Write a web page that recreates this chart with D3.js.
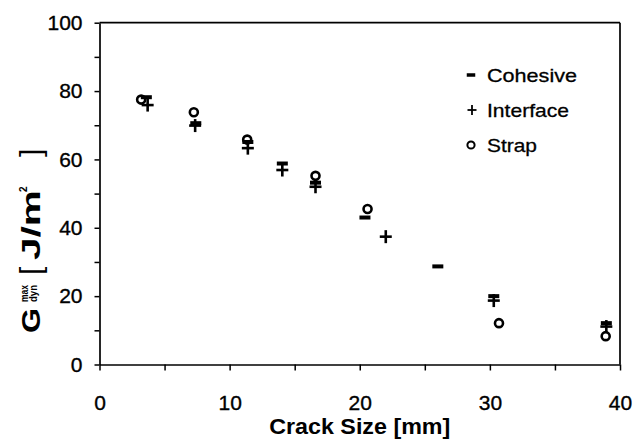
<!DOCTYPE html>
<html>
<head>
<meta charset="utf-8">
<script src="https://cdn.jsdelivr.net/npm/d3@7"></script>
<style>
  html, body { margin: 0; padding: 0; background: #fff; }
  svg { display: block; font-family: "Liberation Sans", Arial, sans-serif; }
</style>
</head>
<body>
<svg id="chart" width="633" height="442"></svg>
<script>
// Peak dynamic energy release rate against crack size, per failure mode
const cohesiveX  = [3.6, 7.4, 11.4, 14.05, 16.6, 20.4, 26.0, 30.3, 38.95];
const cohesiveY  = [78.2, 70.6, 65.1, 58.8, 53.2, 43.0, 28.7, 20.0, 12.1];
const interfaceX = [3.7, 7.35, 11.4, 14.05, 16.6, 22.0, 30.3, 38.95];
const interfaceY = [75.9, 69.9, 63.3, 56.9, 52.0, 37.4, 18.7, 11.1];
const strapX     = [3.2, 7.25, 11.35, 16.6, 20.6, 30.7, 38.9];
const strapY     = [77.5, 73.8, 65.8, 55.2, 45.5, 12.1, 8.3];

const legendLabels = ["Cohesive", "Interface", "Strap"];
const xTicks = [0, 5, 10, 15, 20, 25, 30, 35, 40];
const yTicks = [0, 10, 20, 30, 40, 50, 60, 70, 80, 90, 100];

const svg = d3.select("#chart");
const x = d3.scaleLinear().domain([0, 40]).range([99.5, 620]);
const y = d3.scaleLinear().domain([0, 100]).range([364.5, 22.7]);

const ink = "#000";
const lineW = 1.7;

// frame: top and right edges
svg.append("line").attr("x1", x(0)).attr("x2", x(40)).attr("y1", y(100)).attr("y2", y(100))
  .attr("stroke", ink).attr("stroke-width", lineW);
svg.append("line").attr("x1", x(40)).attr("x2", x(40)).attr("y1", y(100)).attr("y2", y(0))
  .attr("stroke", ink).attr("stroke-width", lineW);

// axes
const xAxis = svg.append("g").attr("transform", `translate(0,${y(0)})`)
  .call(d3.axisBottom(x).tickValues(xTicks).tickSize(6).tickSizeOuter(0).tickPadding(25)
    .tickFormat(d => d % 10 === 0 ? d : ""));
const yAxis = svg.append("g").attr("transform", `translate(${x(0)},0)`)
  .call(d3.axisLeft(y).tickValues(yTicks).tickSize(5).tickSizeOuter(0).tickPadding(12)
    .tickFormat(d => d % 20 === 0 ? d : ""));

[xAxis, yAxis].forEach(a => {
  a.select(".domain").attr("stroke", ink).attr("stroke-width", lineW);
  a.selectAll(".tick line").attr("stroke", ink).attr("stroke-width", 1.5);
  a.selectAll(".tick text").attr("fill", ink)
    .style("font-family", "'Liberation Sans', Arial, sans-serif")
    .style("font-size", "21px")
    .attr("stroke", ink).attr("stroke-width", 0.35);
});

// x-axis title
svg.append("text")
  .attr("x", (x(0) + x(40)) / 2).attr("y", 434)
  .attr("text-anchor", "middle")
  .style("font-size", "22px").style("font-weight", "bold")
  .attr("textLength", 181).attr("lengthAdjust", "spacingAndGlyphs")
  .text("Crack Size [mm]");

// y-axis title, rotated: G with "max" / "dyn" indices, then [J/m²]
const yt = svg.append("g").attr("transform", "translate(40,333) rotate(-90)")
  .style("font-weight", "bold").attr("fill", ink);
yt.append("text").attr("x", 0).attr("y", 0).style("font-size", "26px")
  .attr("textLength", 25).attr("lengthAdjust", "spacingAndGlyphs").text("G");
yt.append("text").attr("x", 31).attr("y", -12).style("font-size", "10px")
  .attr("textLength", 17).attr("lengthAdjust", "spacingAndGlyphs").text("max");
yt.append("text").attr("x", 31).attr("y", -3).style("font-size", "10px")
  .attr("textLength", 17).attr("lengthAdjust", "spacingAndGlyphs").text("dyn");
yt.append("text").attr("x", 58).attr("y", 1).style("font-size", "30px").style("font-weight", "normal")
  .text("[");
yt.append("text").attr("x", 73).attr("y", 0).style("font-size", "25px")
  .attr("textLength", 70).attr("lengthAdjust", "spacingAndGlyphs").text("J/m");
yt.append("text").attr("x", 141).attr("y", -13).style("font-size", "10px").text("2");
yt.append("text").attr("x", 176).attr("y", 1).style("font-size", "30px").style("font-weight", "normal")
  .text("]");

// marker shapes
function dash(g, cx, cy, w, h) {
  g.append("rect").attr("x", cx - w / 2).attr("y", cy - h / 2)
    .attr("width", w).attr("height", h).attr("fill", ink);
}
function plus(g, cx, cy, w, h, sw) {
  g.append("line").attr("x1", cx - w / 2).attr("x2", cx + w / 2).attr("y1", cy).attr("y2", cy)
    .attr("stroke", ink).attr("stroke-width", sw);
  g.append("line").attr("x1", cx).attr("x2", cx).attr("y1", cy - h / 2).attr("y2", cy + h / 2)
    .attr("stroke", ink).attr("stroke-width", sw);
}
function ring(g, cx, cy, r, sw) {
  g.append("circle").attr("cx", cx).attr("cy", cy).attr("r", r)
    .attr("fill", "none").attr("stroke", ink).attr("stroke-width", sw);
}

const marks = svg.append("g");
cohesiveX.forEach((v, i) => dash(marks, x(v), y(cohesiveY[i]), 11, 4));
interfaceX.forEach((v, i) => plus(marks, x(v), y(interfaceY[i]), 12, 13, 2.6));
strapX.forEach((v, i) => ring(marks, x(v), y(strapY[i]), 4, 2.6));

// legend
const legend = svg.append("g");
const legendRows = [75, 110, 145];
const legendWidths = [90, 82, 50];
dash(legend, 471, legendRows[0], 8.5, 3.5);
plus(legend, 472, legendRows[1], 9, 10, 1.8);
ring(legend, 471, legendRows[2], 3.6, 2);
legendLabels.forEach((t, i) => {
  legend.append("text").attr("x", 487).attr("y", legendRows[i] + 7)
    .style("font-size", "19px").attr("fill", ink)
    .attr("stroke", ink).attr("stroke-width", 0.3)
    .attr("textLength", legendWidths[i]).attr("lengthAdjust", "spacingAndGlyphs")
    .text(t);
});
</script>
</body>
</html>
